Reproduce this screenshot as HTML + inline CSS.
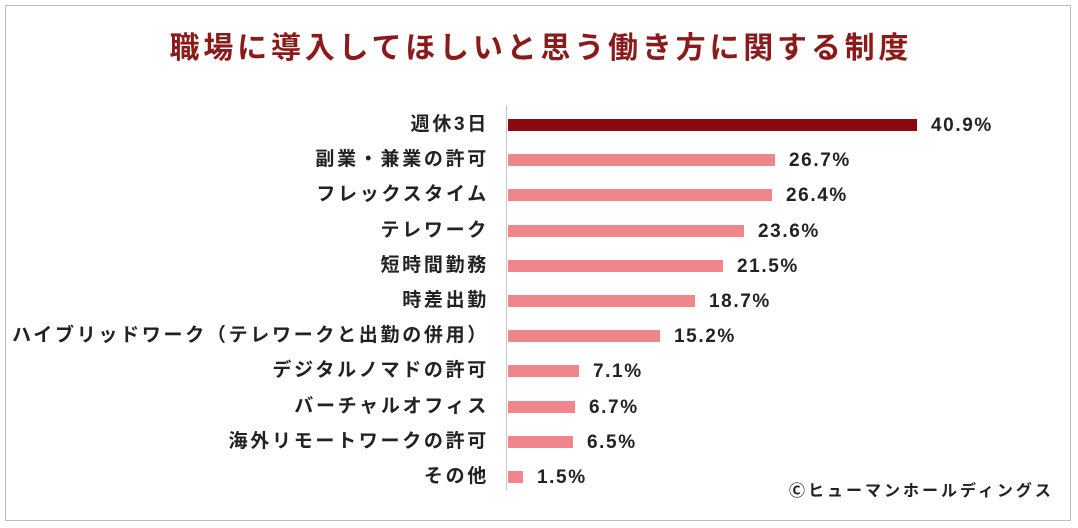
<!DOCTYPE html>
<html><head><meta charset="utf-8">
<style>
html,body{margin:0;padding:0;background:#fff;}
#wrap{position:relative;width:1078px;height:528px;overflow:hidden;font-family:"Liberation Sans","Noto Sans CJK JP",sans-serif;}
#frame{position:absolute;left:5px;top:5px;width:1066px;height:516px;border:1px solid #bfbfbf;box-sizing:border-box;}
#title{position:absolute;left:0;top:31px;width:1078px;text-align:center;font-size:30px;line-height:36px;font-weight:bold;color:#8b1a1a;letter-spacing:3.8px;text-indent:3.8px;}
.lbl{position:absolute;right:589px;font-size:19px;font-weight:bold;color:#222;white-space:nowrap;line-height:22px;letter-spacing:2.7px;}
.val{position:absolute;font-size:19px;font-weight:bold;color:#222;white-space:nowrap;line-height:22px;letter-spacing:1.6px;}
.bar{position:absolute;height:12px;}
#axis{position:absolute;left:506px;top:105px;width:1px;height:385px;background:#c8c8c8;}
#copy{position:absolute;left:789px;top:482px;font-size:16px;line-height:20px;font-weight:bold;color:#222;letter-spacing:3px;}
</style></head>
<body>
<div id="wrap">
<div id="frame"></div>
<div id="title">職場に導入してほしいと思う働き方に関する制度</div>
<div id="axis"></div>
<div id="plot"></div>
<div id="copy">Ⓒヒューマンホールディングス</div>
</div>
<script>
const categories=["週休3日","副業・兼業の許可","フレックスタイム","テレワーク","短時間勤務","時差出勤","ハイブリッドワーク（テレワークと出勤の併用）","デジタルノマドの許可","バーチャルオフィス","海外リモートワークの許可","その他"];
const values=[40.9,26.7,26.4,23.6,21.5,18.7,15.2,7.1,6.7,6.5,1.5];
const valueLabels=["40.9%","26.7%","26.4%","23.6%","21.5%","18.7%","15.2%","7.1%","6.7%","6.5%","1.5%"];
const x0=508, pxPer=10.0, y0=125, step=35.2;
function xs(v){return x0+v*pxPer;}
function yc(i){return y0+i*step;}
const plot=document.getElementById('plot');
categories.forEach((c,i)=>{
  const l=document.createElement('div');
  l.className='lbl';
  l.style.top=(yc(i)-11)+'px';
  l.textContent=c;
  
  
  plot.appendChild(l);
  const b=document.createElement('div');
  b.className='bar';
  b.style.left=x0+'px';
  b.style.top=(yc(i)-6)+'px';
  b.style.width=(xs(values[i])-x0)+'px';
  b.style.background=i===0?'#8b0a0f':'#ee868c';
  
  
  plot.appendChild(b);
  const v=document.createElement('div');
  v.className='val';
  v.style.left=(xs(values[i])+14)+'px';
  v.style.top=(yc(i)-10)+'px';
  v.textContent=valueLabels[i];
  
  
  plot.appendChild(v);
});
</script>
</body></html>
